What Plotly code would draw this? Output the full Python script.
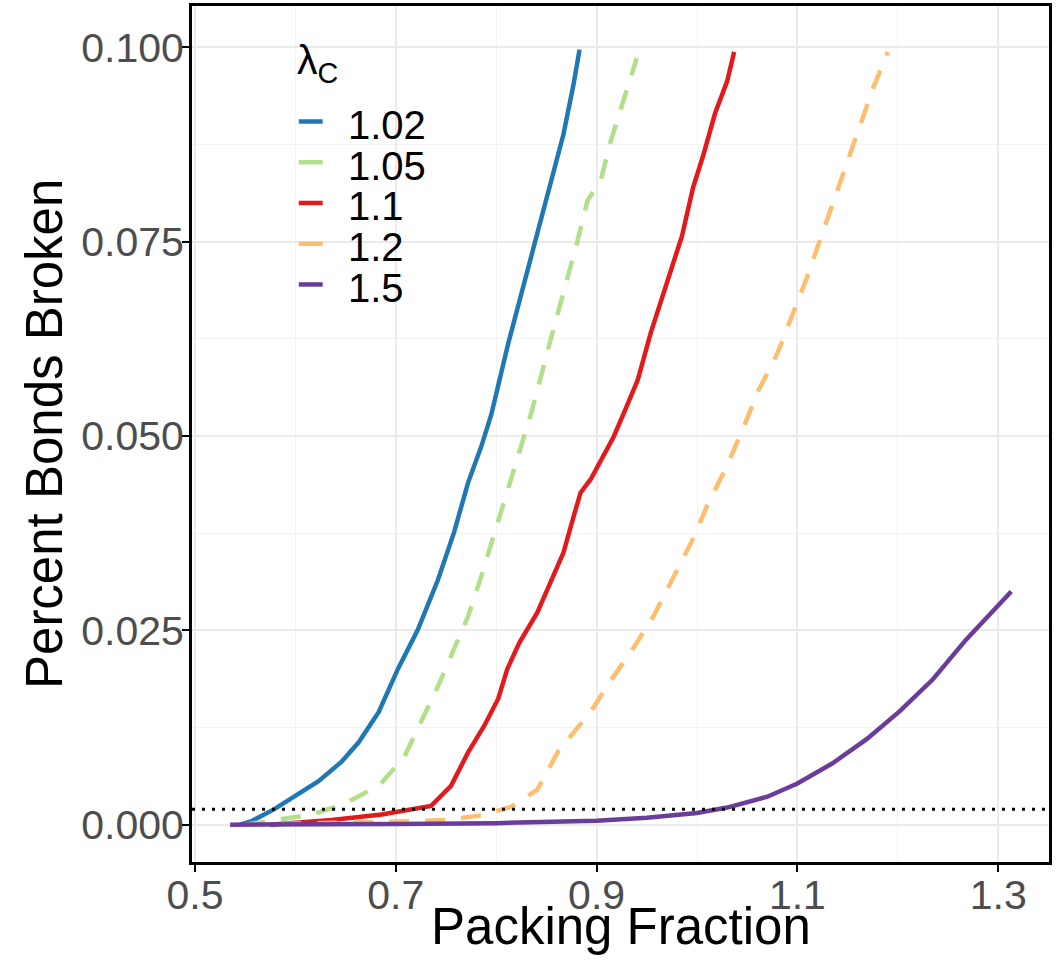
import plotly.graph_objects as go

# ---- data ----
lambda_labels = ["1.02", "1.05", "1.1", "1.2", "1.5"]
colors = ["#1F78B4", "#B2DF8A", "#E31A1C", "#FDBF6F", "#6A3D9A"]
dashes = ["solid", "20px,16px", "solid", "20px,16px", "solid"]

x_102 = [0.545, 0.557, 0.579, 0.606, 0.623, 0.646, 0.663, 0.683, 0.702, 0.722, 0.742, 0.758,
         0.772, 0.785, 0.795, 0.812, 0.828, 0.841, 0.854, 0.867, 0.877, 0.883]
y_102 = [0.0, 0.0005, 0.002, 0.0042, 0.0056, 0.0081, 0.0106, 0.0145, 0.020, 0.0251, 0.0315, 0.0376,
         0.044, 0.0486, 0.0527, 0.0619, 0.0696, 0.076, 0.0824, 0.0888, 0.0952, 0.0997]

x_105 = [0.55, 0.576, 0.616, 0.649, 0.683, 0.708, 0.725, 0.742, 0.758, 0.772, 0.785, 0.797,
         0.810, 0.822, 0.835, 0.854, 0.867, 0.881, 0.891, 0.904, 0.914, 0.927, 0.940]
y_105 = [0.0, 0.0005, 0.0013, 0.0027, 0.005, 0.0086, 0.0132, 0.0178, 0.0226, 0.0268, 0.0319, 0.037,
         0.0422, 0.0473, 0.053, 0.0623, 0.0683, 0.0751, 0.0803, 0.0828, 0.0879, 0.0931, 0.0986]

x_110 = [0.575, 0.636, 0.686, 0.735, 0.755, 0.772, 0.788, 0.802, 0.811, 0.823, 0.841, 0.854,
         0.867, 0.877, 0.884, 0.894, 0.904, 0.917, 0.927, 0.941, 0.954, 0.970, 0.985, 0.996,
         1.006, 1.018, 1.030, 1.037]
y_110 = [0.0, 0.0006, 0.0013, 0.0024, 0.005, 0.0093, 0.0127, 0.0162, 0.020, 0.0234, 0.0273, 0.0312,
         0.035, 0.0396, 0.0427, 0.0444, 0.0469, 0.0499, 0.0529, 0.0572, 0.0633, 0.0695, 0.0757, 0.0819,
         0.086, 0.0915, 0.0956, 0.0994]

x_120 = [0.55, 0.65, 0.70, 0.75, 0.785, 0.815, 0.841, 0.862, 0.875, 0.894, 0.914, 0.937, 0.957,
         0.976, 0.995, 1.010, 1.030, 1.046, 1.061, 1.080, 1.095, 1.109, 1.122, 1.135, 1.149,
         1.162, 1.175, 1.190]
y_120 = [0.0, 0.0002, 0.0004, 0.0006, 0.0012, 0.0023, 0.0045, 0.0095, 0.0115, 0.0145, 0.0185, 0.0228,
         0.0269, 0.0318, 0.0365, 0.041, 0.0462, 0.051, 0.0558, 0.0606, 0.0654, 0.0702, 0.075, 0.0798,
         0.0846, 0.0894, 0.0946, 0.0994]

x_150 = [0.535, 0.6, 0.7, 0.8, 0.85, 0.9, 0.95, 1.0, 1.03, 1.07, 1.1, 1.135, 1.169, 1.202,
         1.235, 1.268, 1.313]
y_150 = [0.0, 0.0, 0.0001, 0.0002, 0.0003, 0.0005, 0.0009, 0.0015, 0.0022, 0.0036, 0.0053, 0.0079,
         0.011, 0.0146, 0.0187, 0.0238, 0.030]

threshold = 0.002

x_ticks = [0.5, 0.7, 0.9, 1.1, 1.3]
y_ticks = [0.0, 0.025, 0.05, 0.075, 0.1]

series_x = [x_102, x_105, x_110, x_120, x_150]
series_y = [y_102, y_105, y_110, y_120, y_150]

FONT = "Liberation Sans, Arial, sans-serif"

fig = go.Figure()
for lab, xs, ys, c, d in zip(lambda_labels, series_x, series_y, colors, dashes):
    fig.add_trace(go.Scatter(x=xs, y=ys, mode="lines", name=lab,
                             line=dict(color=c, width=4.5, dash=d), showlegend=False))

fig.add_hline(y=threshold, line=dict(color="black", width=3, dash="3px,7px"), layer="above")

# manual legend (compact spacing like the reference)
leg_x0, leg_x1, leg_tx = 0.1246, 0.1525, 0.1800
leg_top, leg_step = 0.8611, 0.0476
fig.add_annotation(x=leg_x0 - 0.004, y=leg_top + 0.072, xref="paper", yref="paper",
                   text="λ<sub>C</sub>", showarrow=False, xanchor="left", yanchor="middle",
                   font=dict(family=FONT, size=41, color="black"))
for i, (lab, c) in enumerate(zip(lambda_labels, colors)):
    yy = leg_top - i * leg_step
    fig.add_shape(type="line", xref="paper", yref="paper", x0=leg_x0, x1=leg_x1,
                  y0=yy + 0.004, y1=yy + 0.004, line=dict(color=c, width=4.5))
    fig.add_annotation(x=leg_tx, y=yy, xref="paper", yref="paper", text=lab, showarrow=False,
                       xanchor="left", yanchor="middle", height=38, valign="middle",
                       font=dict(family=FONT, size=40, color="black"))

# axis titles
fig.add_annotation(x=0.5, y=-0.0759, xref="paper", yref="paper", text="Packing Fraction",
                   showarrow=False, xanchor="center", yanchor="middle",
                   font=dict(family=FONT, size=51, color="black"))
fig.add_annotation(x=-0.1727, y=0.5, xref="paper", yref="paper", text="Percent Bonds Broken",
                   showarrow=False, xanchor="center", yanchor="middle", textangle=-90,
                   font=dict(family=FONT, size=51, color="black"))

axis_common = dict(
    showline=True, linecolor="black", linewidth=3, mirror=True,
    ticks="outside", ticklen=7, tickwidth=2, tickcolor="black",
    showgrid=True, gridcolor="#EBEBEB", gridwidth=1.5,
    zeroline=False,
    tickfont=dict(family=FONT, size=41, color="#4D4D4D"),
)

fig.update_xaxes(
    range=[0.497, 1.3506], tickvals=x_ticks, ticktext=[f"{v:.1f}" for v in x_ticks],
    minor=dict(showgrid=True, gridcolor="#F2F2F2", gridwidth=1, dtick=0.1, tick0=0.5, ticks=""),
    ticklabelstandoff=-12,
    **axis_common,
)
fig.update_yaxes(
    range=[-0.0048, 0.1053], tickvals=y_ticks, ticktext=[f"{v:.3f}" for v in y_ticks],
    minor=dict(showgrid=True, gridcolor="#F2F2F2", gridwidth=1, dtick=0.0125, tick0=0, ticks=""),
    ticklabelstandoff=-10,
    **axis_common,
)

fig.update_layout(
    width=1056, height=967,
    margin=dict(l=192, r=7, t=6, b=105, autoexpand=False),
    plot_bgcolor="white", paper_bgcolor="white",
    font=dict(family=FONT),
    showlegend=False,
)

fig.write_html("out.html", config={"displayModeBar": False},
               post_script="document.body.style.margin='0';")
